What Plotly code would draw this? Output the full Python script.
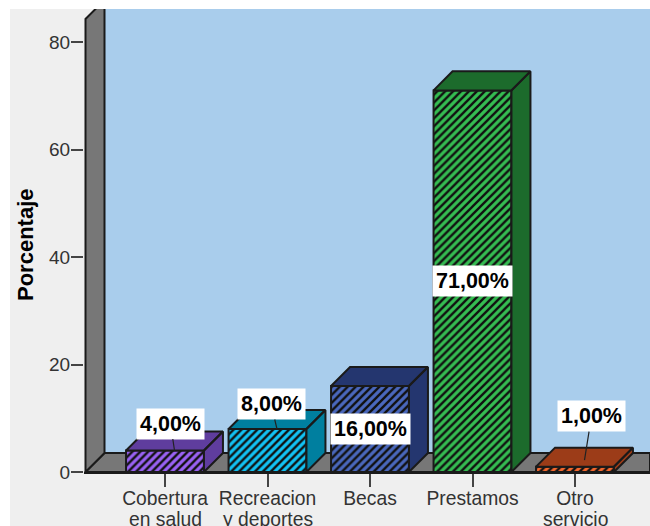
import plotly.graph_objects as go

categories_line1 = ["Cobertura", "Recreacion", "Becas", "Prestamos", "Otro"]
categories_line2 = ["en salud", "y deportes", "", "", "servicio"]
values = [4, 8, 16, 71, 1]
value_labels = ["4,00%", "8,00%", "16,00%", "71,00%", "1,00%"]
front_colors = ["#9a62f5", "#12c3f5", "#4a68bd", "#35bd52", "#f5682d"]
side_colors = ["#5f3d9e", "#007f9f", "#24366f", "#1c6b2c", "#9c3c18"]
y_ticks = [0, 20, 40, 60, 80]

# geometry in axis units
PX_PER_CAT = 102.5
PX_PER_PCT = 5.375
BAR_W = 0.76
DX = 19 / PX_PER_CAT
DY = 19 / PX_PER_PCT
X_L = (84 - 165) / PX_PER_CAT
X_WALL = (85.5 - 165) / PX_PER_CAT
X_R = (650 - 165) / PX_PER_CAT
Y_T = (472 - 9) / PX_PER_PCT
Y_WALL = (472 - 19) / PX_PER_PCT

WALL = "#777777"
BACK = "#a9cdec"
BG = "#efefef"
EDGE = "#1a1a1a"
TXT = "#333333"
FONT = "Liberation Sans"

x_idx = list(range(len(values)))
fig = go.Figure()

for i, v, c in zip(x_idx, values, front_colors):
    fig.add_bar(
        x=[i], y=[v], width=BAR_W,
        marker=dict(
            color=c,
            line=dict(color=EDGE, width=2),
            pattern=dict(shape="/", size=5.6, solidity=0.42, fgcolor="#101010",
                         bgcolor=c, fgopacity=1, fillmode="overlay"),
        ),
        hoverinfo="skip", showlegend=False,
    )

for i, v, c in zip(x_idx, values, side_colors):
    x0 = i - BAR_W / 2
    x1 = i + BAR_W / 2
    fig.add_scatter(
        x=[x0, x0 + DX, x1 + DX, x1, x0, None, x1, x1 + DX, x1 + DX, x1, x1],
        y=[v, v + DY, v + DY, v, v, None, v, v + DY, DY, 0, v],
        mode="lines", fill="toself", fillcolor=c,
        line=dict(color=EDGE, width=2),
        hoverinfo="skip", showlegend=False,
    )

shapes = [
    dict(type="rect", xref="paper", yref="paper",
         x0=(10 - 84) / 566, x1=1, y0=-54 / 463, y1=1,
         fillcolor=BG, line_width=0, layer="below"),
    dict(type="rect", xref="x", yref="y", x0=X_WALL + DX, x1=X_R, y0=DY, y1=Y_T,
         fillcolor=BACK, line_width=0, layer="below"),
    dict(type="path", xref="x", yref="y",
         path=f"M{X_WALL},0 L{X_WALL + DX},{DY} L{X_R},{DY} L{X_R},0 Z",
         fillcolor=WALL, line=dict(color=EDGE, width=2), layer="below"),
    dict(type="path", xref="x", yref="y",
         path=f"M{X_WALL},0 L{X_WALL + DX},{DY} L{X_WALL + DX},{Y_WALL + DY} L{X_WALL},{Y_WALL} Z",
         fillcolor=WALL, line=dict(color=EDGE, width=2), layer="below"),
]

annotations = []
label_font = dict(family=FONT, size=21.5, color="#000000")
arrow_offsets = {0: (-4, -27), 1: (-6, -25), 4: (7, -44)}
for i, v, t in zip(x_idx, values, value_labels):
    if i in arrow_offsets:
        ax, ay = arrow_offsets[i]
        annotations.append(dict(
            x=i + DX / 2, y=v + (1.2 if i == 4 else 0), xref="x", yref="y",
            text=f"<b>{t}</b>", font=label_font, bgcolor="#ffffff", borderpad=3,
            showarrow=True, arrowhead=0, arrowwidth=1.2, arrowcolor="#222222",
            ax=ax, ay=ay, axref="pixel", ayref="pixel",
        ))
    else:
        annotations.append(dict(
            x=i, y=v / 2, xref="x", yref="y", text=f"<b>{t}</b>",
            font=label_font, bgcolor="#ffffff", borderpad=3, showarrow=False,
        ))

for i, t in zip(x_idx, categories_line2):
    if t:
        annotations.append(dict(
            x=i, y=0, xref="x", yref="y", yshift=-47, text=t, showarrow=False,
            font=dict(family=FONT, size=19.3, color=TXT),
        ))

annotations.append(dict(
    x=(25 - 84) / 566, y=(472 - 245) / 463, xref="paper", yref="paper",
    xanchor="center", yanchor="middle",
    text="<b>Porcentaje</b>", textangle=-90, showarrow=False,
    font=dict(family=FONT, size=22, color="#000000"),
))

fig.update_layout(
    width=650, height=526,
    margin=dict(l=84, r=0, t=9, b=54, pad=0),
    paper_bgcolor="#ffffff", plot_bgcolor=BG,
    barmode="overlay", showlegend=False,
    shapes=shapes, annotations=annotations,
    xaxis=dict(
        range=[X_L, X_R], tickvals=x_idx, ticktext=categories_line1,
        ticks="outside", ticklen=13, tickwidth=2, tickcolor="#444444",
        ticklabelstandoff=-5,
        tickfont=dict(family=FONT, size=19.3, color=TXT),
        showgrid=False, zeroline=False, showline=True, linecolor=EDGE, linewidth=2,
    ),
    yaxis=dict(
        range=[0, Y_T], tickvals=y_ticks,
        ticks="outside", ticklen=12, tickwidth=2, tickcolor="#444444",
        ticklabelstandoff=-3,
        tickfont=dict(family=FONT, size=19, color=TXT),
        showgrid=False, zeroline=False, showline=False,
    ),
)

fig.write_html("out.html", config={"displayModeBar": False},
               post_script="document.body.style.margin='0';document.body.style.overflow='hidden';")
